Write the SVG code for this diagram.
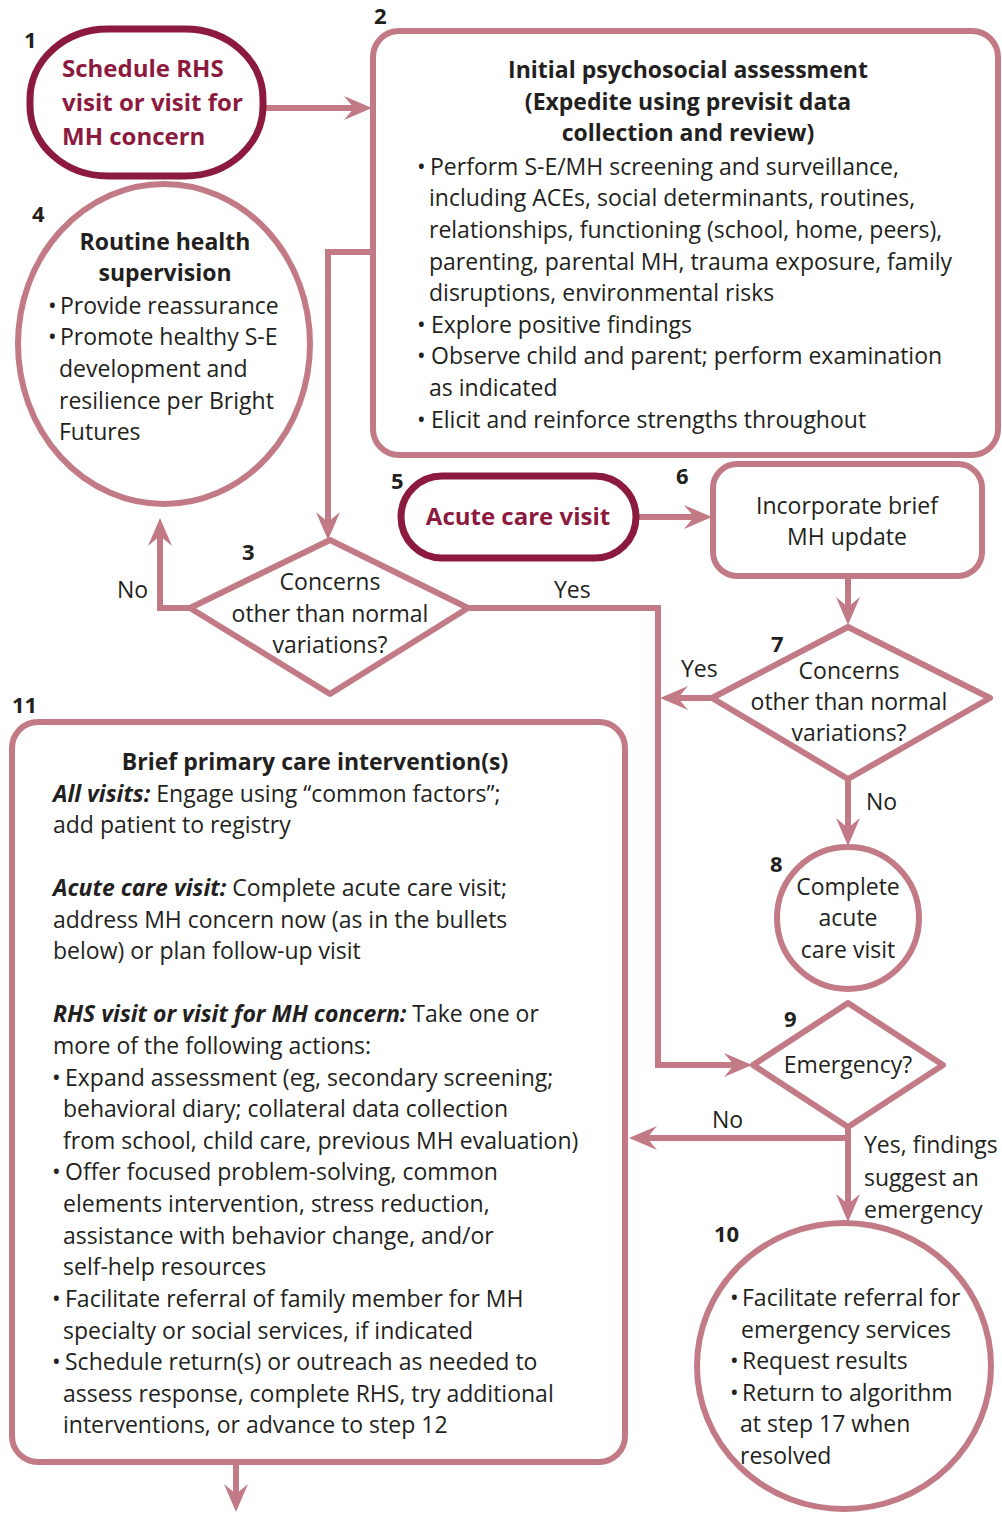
<svg xmlns="http://www.w3.org/2000/svg" width="1002" height="1515" viewBox="0 0 1002 1515">
<defs>
<style>
.ln{fill:none;stroke:#c27a86;stroke-width:6}
.pkw{fill:#fff;stroke:#c27a86;stroke-width:6;stroke-linejoin:round}
.mr{fill:#fff;stroke:#8c1a3e;stroke-width:7}
.t{font-family:"Open Sans","Liberation Sans",Arial,sans-serif;font-size:23px;fill:#231f20}
.b{font-weight:bold}
.bi{font-weight:bold;font-style:italic}
.mt{font-family:"Open Sans","Liberation Sans",Arial,sans-serif;font-size:24px;font-weight:bold;fill:#8c1a3e}
.n{font-family:"Open Sans","Liberation Sans",Arial,sans-serif;font-size:22px;font-weight:bold;fill:#231f20}
.c{text-anchor:middle}
</style>
<marker id="ah" viewBox="0 0 28 24" refX="10" refY="12" markerWidth="28" markerHeight="24" markerUnits="userSpaceOnUse" orient="auto">
<path d="M0,0 L28,12 L0,24 L10,12 z" fill="#c27a86"/>
</marker>
</defs>
<rect width="1002" height="1515" fill="#fff"/>

<g id="connectors">
<path class="ln" d="M265,108 H354" marker-end="url(#ah)"/>
<path class="ln" d="M372,252 H328 V522" marker-end="url(#ah)"/>
<path class="ln" d="M190,608 H160 V536" marker-end="url(#ah)"/>
<path class="ln" d="M468,608 H658 V1065 H734" marker-end="url(#ah)"/>
<path class="ln" d="M637,517 H694" marker-end="url(#ah)"/>
<path class="ln" d="M848,577 V607" marker-end="url(#ah)"/>
<path class="ln" d="M712,698 H678" marker-end="url(#ah)"/>
<path class="ln" d="M848,780 V828" marker-end="url(#ah)"/>
<path class="ln" d="M848,1138 H647" marker-end="url(#ah)"/>
<path class="ln" d="M848,1128 V1204" marker-end="url(#ah)"/>
<path class="ln" d="M236,1462 V1494" marker-end="url(#ah)"/>
<text class="t" x="117" y="598">No</text>
<text class="t" x="554" y="598">Yes</text>
<text class="t" x="681" y="677">Yes</text>
<text class="t" x="866" y="810">No</text>
<text class="t" x="712" y="1128">No</text>
<text class="t" x="864" y="1153">Yes, findings</text>
<text class="t" x="864" y="1186">suggest an</text>
<text class="t" x="864" y="1218">emergency</text>
</g>

<g id="node1">
<rect class="mr" x="30" y="29" width="233" height="147" rx="78" ry="70"/>
<text class="n" x="24" y="48">1</text>
<text class="mt" x="62" y="77">Schedule RHS</text>
<text class="mt" x="62" y="111">visit or visit for</text>
<text class="mt" x="62" y="145">MH concern</text>
</g>

<g id="node2">
<rect class="pkw" x="373" y="31" width="625" height="424" rx="26"/>
<text class="n" x="374" y="24">2</text>
<text class="t b c" x="688" y="78">Initial psychosocial assessment</text>
<text class="t b c" x="688" y="110">(Expedite using previsit data</text>
<text class="t b c" x="688" y="141">collection and review)</text>
<text class="t" x="417" y="175">•</text>
<text class="t" x="430" y="175">Perform S-E/MH screening and surveillance,</text>
<text class="t" x="429" y="206">including ACEs, social determinants, routines,</text>
<text class="t" x="429" y="238">relationships, functioning (school, home, peers),</text>
<text class="t" x="429" y="270">parenting, parental MH, trauma exposure,  family</text>
<text class="t" x="429" y="301">disruptions, environmental risks</text>
<text class="t" x="417" y="333">•</text>
<text class="t" x="431" y="333">Explore positive findings</text>
<text class="t" x="417" y="364">•</text>
<text class="t" x="431" y="364">Observe child and parent; perform examination</text>
<text class="t" x="429" y="396">as indicated</text>
<text class="t" x="417" y="428">•</text>
<text class="t" x="431" y="428">Elicit and reinforce strengths throughout</text>
</g>

<g id="node3">
<path class="pkw" d="M330,540 L468,608 L330,694 L190,608 Z"/>
<text class="n" x="242" y="560">3</text>
<text class="t c" x="330" y="590">Concerns</text>
<text class="t c" x="330" y="622">other than normal</text>
<text class="t c" x="330" y="653">variations?</text>
</g>

<g id="node4">
<ellipse class="pkw" cx="164" cy="344" rx="146" ry="160"/>
<text class="n" x="32" y="222">4</text>
<text class="t b c" x="165" y="250">Routine health</text>
<text class="t b c" x="165" y="281">supervision</text>
<text class="t" x="48" y="314">•</text>
<text class="t" x="60" y="314">Provide reassurance</text>
<text class="t" x="48" y="345">•</text>
<text class="t" x="60" y="345">Promote healthy S-E</text>
<text class="t" x="59" y="377">development and</text>
<text class="t" x="59" y="409">resilience per Bright</text>
<text class="t" x="59" y="440">Futures</text>
</g>

<g id="node5">
<rect class="mr" x="401" y="476" width="235" height="82" rx="41"/>
<text class="n" x="391" y="489">5</text>
<text class="mt c" x="518" y="525">Acute care visit</text>
</g>

<g id="node6">
<rect class="pkw" x="713" y="464" width="269" height="112" rx="24"/>
<text class="n" x="676" y="484">6</text>
<text class="t c" x="847" y="514">Incorporate brief</text>
<text class="t c" x="847" y="545">MH update</text>
</g>

<g id="node7">
<path class="pkw" d="M848,627 L990,698 L848,779 L712,698 Z"/>
<text class="n" x="771" y="652">7</text>
<text class="t c" x="849" y="679">Concerns</text>
<text class="t c" x="849" y="710">other than normal</text>
<text class="t c" x="849" y="741">variations?</text>
</g>

<g id="node8">
<circle class="pkw" cx="848" cy="918" r="71"/>
<text class="n" x="770" y="872">8</text>
<text class="t c" x="848" y="895">Complete</text>
<text class="t c" x="848" y="926">acute</text>
<text class="t c" x="848" y="958">care visit</text>
</g>

<g id="node9">
<path class="pkw" d="M848,1003 L943,1065 L848,1127 L753,1065 Z"/>
<text class="n" x="784" y="1027">9</text>
<text class="t c" x="848" y="1073">Emergency?</text>
</g>

<g id="node10">
<ellipse class="pkw" cx="844" cy="1366" rx="147" ry="143"/>
<text class="n" x="714" y="1242">10</text>
<text class="t" x="730" y="1306">•</text>
<text class="t" x="742" y="1306">Facilitate referral for</text>
<text class="t" x="741" y="1338">emergency services</text>
<text class="t" x="730" y="1369">•</text>
<text class="t" x="742" y="1369">Request results</text>
<text class="t" x="730" y="1401">•</text>
<text class="t" x="742" y="1401">Return to algorithm</text>
<text class="t" x="740" y="1432">at step 17 when</text>
<text class="t" x="740" y="1464">resolved</text>
</g>

<g id="node11">
<rect class="pkw" x="12" y="722" width="613" height="740" rx="26"/>
<text class="n" x="12" y="713">11</text>
<text class="t b c" x="315" y="770">Brief primary care intervention(s)</text>
<text class="t" x="53" y="802"><tspan class="bi">All visits:</tspan> Engage using “common factors”;</text>
<text class="t" x="53" y="833">add patient to registry</text>
<text class="t" x="53" y="896"><tspan class="bi">Acute care visit:</tspan> Complete acute care visit;</text>
<text class="t" x="53" y="928">address MH concern now (as in the bullets</text>
<text class="t" x="53" y="959">below) or plan follow-up visit</text>
<text class="t" x="53" y="1022"><tspan class="bi">RHS visit or visit for MH concern:</tspan>  Take one or</text>
<text class="t" x="53" y="1054">more of the following actions:</text>
<text class="t" x="52" y="1086">•</text>
<text class="t" x="65" y="1086">Expand assessment (eg, secondary screening;</text>
<text class="t" x="63" y="1117">behavioral diary; collateral data collection</text>
<text class="t" x="63" y="1149">from school, child care, previous MH evaluation)</text>
<text class="t" x="52" y="1180">•</text>
<text class="t" x="65" y="1180">Offer focused problem-solving, common</text>
<text class="t" x="63" y="1212">elements intervention, stress reduction,</text>
<text class="t" x="63" y="1244">assistance with behavior change, and/or</text>
<text class="t" x="63" y="1275">self-help resources</text>
<text class="t" x="52" y="1307">•</text>
<text class="t" x="65" y="1307">Facilitate referral of family member for MH</text>
<text class="t" x="63" y="1339">specialty or social services, if indicated</text>
<text class="t" x="52" y="1370">•</text>
<text class="t" x="65" y="1370">Schedule return(s) or outreach as needed to</text>
<text class="t" x="63" y="1402">assess response, complete RHS, try additional</text>
<text class="t" x="63" y="1433">interventions, or advance to step 12</text>
</g>
</svg>
